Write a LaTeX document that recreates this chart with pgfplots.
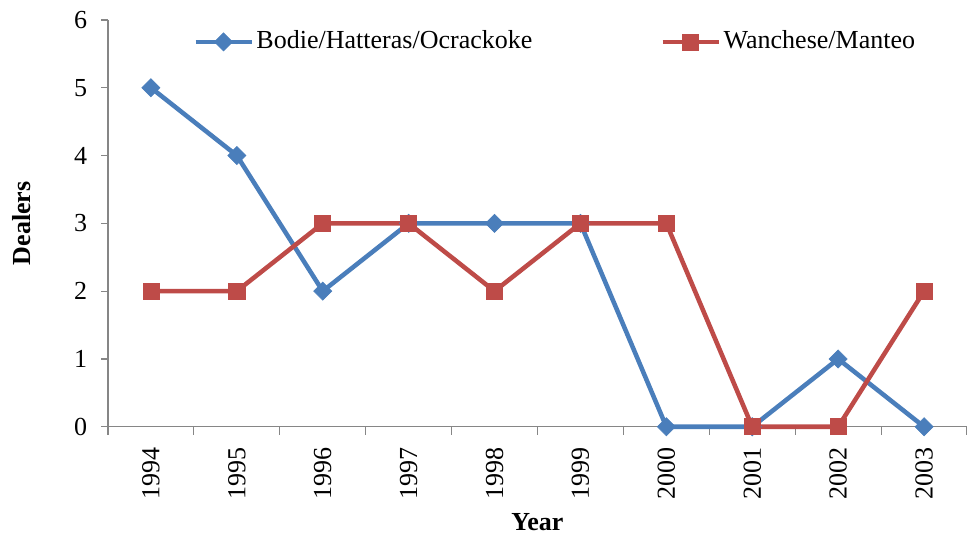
\documentclass[border=0pt]{standalone}
\usepackage{fontspec}
\setmainfont{Liberation Serif}
\usepackage{pgfplots}
\pgfplotsset{compat=1.18}
\definecolor{exblue}{HTML}{4A7EBB}
\definecolor{exred}{HTML}{BE4B48}
\definecolor{axgray}{HTML}{868686}
\begin{document}
\fontsize{19.5}{23}\selectfont
\begin{tikzpicture}
\begin{axis}[
    width=644pt, height=305pt, scale only axis,
    xmin=-0.5, xmax=9.5, ymin=0, ymax=6,
    axis x line*=bottom, axis y line*=left,
    axis line style={axgray, line width=0.9pt, -},
    xtick={0,...,9},
    xticklabels={1994,1995,1996,1997,1998,1999,2000,2001,2002,2003},
    major x tick style={draw=none},
    minor xtick={-0.5,0.5,...,9.5},
    minor x tick style={axgray, line width=0.9pt},
    minor tick length=6pt,
    ytick={0,...,6},
    y tick style={axgray, line width=0.9pt},
    major tick length=5pt,
    tick align=outside,
    x tick label style={rotate=90, anchor=east, font=\fontsize{19.5}{23}\selectfont, xshift=-4pt},
    y tick label style={font=\fontsize{19.5}{23}\selectfont, xshift=-4pt},
    /pgf/number format/assume math mode=true,
    xlabel={\textbf{Year}}, ylabel={\textbf{Dealers}},
    label style={font=\fontsize{19.5}{23}\selectfont},
    xlabel style={yshift=3pt},
    ylabel style={yshift=19pt},
    legend columns=2,
    legend style={at={(0.521,0.946)}, anchor=center, draw=none, fill=none,
      font=\fontsize{19.5}{23}\selectfont,
      /tikz/every even column/.append style={column sep=94pt}},
    legend image code/.code={\draw[mark repeat=2,mark phase=2] plot coordinates {(0pt,0pt) (21pt,0pt) (42pt,0pt)};},
    clip=false,
]
\addplot[exblue, line width=3.4pt, mark=square*, mark size=4.8pt, mark options={rotate=45, line width=0.5pt, fill=exblue}]
  coordinates {(0,5) (1,4) (2,2) (3,3) (4,3) (5,3) (6,0) (7,0) (8,1) (9,0)};
\addlegendentry{Bodie/Hatteras/Ocrackoke}
\addplot[exred, line width=3.4pt, mark=square*, mark size=6pt, mark options={line width=0.5pt, fill=exred}]
  coordinates {(0,2) (1,2) (2,3) (3,3) (4,2) (5,3) (6,3) (7,0) (8,0) (9,2)};
\addlegendentry{Wanchese/Manteo}
\coordinate (bl) at (axis description cs:-0.1257,-0.2727);
\coordinate (tr) at (axis description cs:1,1.049);
\end{axis}
\pgfresetboundingbox
\path (bl) rectangle (tr);
\end{tikzpicture}
\end{document}
